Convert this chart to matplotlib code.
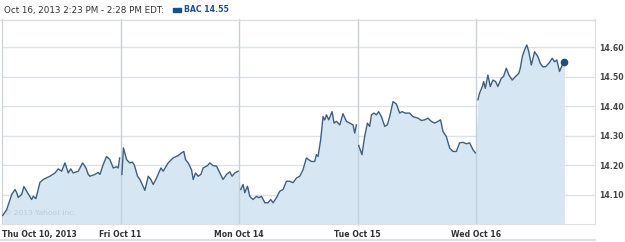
import numpy as np
import matplotlib.pyplot as plt
import matplotlib.patches as mpatches

# BAC intraday, Oct 10 - Oct 16 2013 (time = fraction of trading day)
thu_t = [0.006, 0.040, 0.082, 0.110, 0.124, 0.137, 0.166, 0.185, 0.208, 0.250, 0.264, 0.286,
         0.320, 0.348, 0.404, 0.447, 0.474, 0.503, 0.531, 0.559, 0.579, 0.601, 0.643, 0.680,
         0.708, 0.727, 0.741, 0.784, 0.811, 0.826, 0.853, 0.882, 0.910, 0.938, 0.966, 0.980, 0.992]
thu_p = [14.029, 14.049, 14.100, 14.117, 14.106, 14.090, 14.100, 14.127, 14.111, 14.083, 14.094, 14.086,
         14.141, 14.151, 14.162, 14.173, 14.187, 14.179, 14.207, 14.173, 14.187, 14.173, 14.179, 14.207,
         14.190, 14.168, 14.162, 14.168, 14.175, 14.168, 14.201, 14.229, 14.218, 14.190, 14.194, 14.190, 14.224]

fri_t = [0.011, 0.024, 0.051, 0.078, 0.098, 0.115, 0.143, 0.163, 0.205, 0.233, 0.255, 0.275,
         0.303, 0.340, 0.359, 0.401, 0.443, 0.485, 0.514, 0.533, 0.548, 0.570, 0.598, 0.612,
         0.632, 0.654, 0.677, 0.696, 0.733, 0.752, 0.780, 0.809, 0.837, 0.864, 0.893, 0.921,
         0.940, 0.963, 0.991]
fri_p = [14.168, 14.258, 14.218, 14.207, 14.210, 14.201, 14.162, 14.151, 14.114, 14.162, 14.151, 14.134,
         14.156, 14.190, 14.179, 14.207, 14.224, 14.232, 14.241, 14.246, 14.218, 14.207, 14.184, 14.151,
         14.173, 14.162, 14.168, 14.190, 14.198, 14.207, 14.198, 14.196, 14.173, 14.151, 14.168, 14.177,
         14.162, 14.173, 14.179]

mon_t = [0.013, 0.033, 0.047, 0.070, 0.089, 0.117, 0.146, 0.165, 0.188, 0.216, 0.243, 0.266,
         0.286, 0.314, 0.342, 0.370, 0.398, 0.426, 0.454, 0.483, 0.511, 0.538, 0.567, 0.586,
         0.609, 0.637, 0.651, 0.665, 0.687, 0.707, 0.721, 0.736, 0.755, 0.783, 0.800, 0.820,
         0.848, 0.875, 0.904, 0.932, 0.960, 0.974, 0.988]
mon_p = [14.117, 14.134, 14.106, 14.128, 14.094, 14.083, 14.094, 14.089, 14.094, 14.072, 14.072, 14.083,
         14.072, 14.089, 14.111, 14.117, 14.145, 14.145, 14.140, 14.156, 14.162, 14.184, 14.224, 14.218,
         14.212, 14.212, 14.235, 14.229, 14.286, 14.364, 14.353, 14.370, 14.353, 14.381, 14.342, 14.348,
         14.336, 14.374, 14.348, 14.342, 14.336, 14.308, 14.336]

tue_t = [0.008, 0.035, 0.058, 0.081, 0.100, 0.115, 0.137, 0.157, 0.176, 0.199, 0.227, 0.249,
         0.269, 0.297, 0.325, 0.353, 0.372, 0.401, 0.437, 0.465, 0.507, 0.536, 0.564, 0.591,
         0.620, 0.648, 0.676, 0.698, 0.718, 0.746, 0.774, 0.802, 0.831, 0.858, 0.886, 0.915,
         0.943, 0.971, 0.991]
tue_p = [14.266, 14.235, 14.297, 14.342, 14.331, 14.370, 14.376, 14.370, 14.381, 14.364, 14.331, 14.336,
         14.364, 14.415, 14.407, 14.376, 14.381, 14.376, 14.376, 14.364, 14.359, 14.351, 14.353, 14.359,
         14.348, 14.342, 14.348, 14.353, 14.314, 14.297, 14.258, 14.246, 14.246, 14.275, 14.277, 14.272,
         14.275, 14.252, 14.241]

wed_t = [0.013, 0.027, 0.050, 0.061, 0.075, 0.097, 0.117, 0.139, 0.162, 0.181, 0.210, 0.229,
         0.252, 0.274, 0.302, 0.330, 0.358, 0.370, 0.387, 0.406, 0.425, 0.442, 0.463, 0.491,
         0.519, 0.538, 0.560, 0.583, 0.611, 0.639, 0.659, 0.678, 0.701, 0.724, 0.742]
wed_p = [14.421, 14.444, 14.466, 14.483, 14.460, 14.505, 14.466, 14.488, 14.483, 14.466, 14.494, 14.500,
         14.528, 14.505, 14.488, 14.500, 14.511, 14.528, 14.567, 14.590, 14.607, 14.584, 14.539, 14.584,
         14.567, 14.545, 14.533, 14.533, 14.545, 14.562, 14.550, 14.556, 14.517, 14.539, 14.550]

day_labels = ["Thu Oct 10, 2013", "Fri Oct 11", "Mon Oct 14", "Tue Oct 15", "Wed Oct 16"]
price_ticks = [14.10, 14.20, 14.30, 14.40, 14.50, 14.60]

days = [(thu_t, thu_p), (fri_t, fri_p), (mon_t, mon_p), (tue_t, tue_p), (wed_t, wed_p)]

fig = plt.figure(figsize=(6.25, 2.42), dpi=100)
ax = fig.add_axes([2 / 625, 18 / 242, 593 / 625, 205 / 242])

line_col = "#3d5f80"
fill_col = "#d6e6f3"

all_t = np.concatenate([np.array(t) + i for i, (t, p) in enumerate(days)])
all_p = np.concatenate([p for t, p in days])
ax.fill_between(all_t, all_p, 14.0, color=fill_col, lw=0, zorder=1)
for i, (t, p) in enumerate(days):
    ax.plot(np.array(t) + i, p, color=line_col, lw=1.0, zorder=3)
ax.plot(all_t[-1], all_p[-1], "o", color="#1f4e7a", ms=4.5, zorder=4)

ax.set_xlim(0, 5)
ax.set_ylim(14.0, 14.695)

for y in price_ticks:
    ax.axhline(y, color="#dfe2e6", lw=1, zorder=0)
for x in range(1, 5):
    ax.axvline(x, color="#c8d0d8", lw=1, zorder=2)

ax.spines["top"].set_visible(False)
ax.spines["left"].set_color("#c8d0d8")
ax.spines["right"].set_color("#dcdfe3")
ax.spines["bottom"].set_color("#dcdfe3")

ax.yaxis.tick_right()
ax.set_yticks(price_ticks)
ax.set_yticklabels([f"{v:.2f}" for v in price_ticks], fontsize=5.6, fontweight="bold",
                   color="#444444", family="DejaVu Sans")
ax.tick_params(axis="y", length=0, pad=3)

ax.set_xticks(range(5))
ax.set_xticklabels(day_labels, fontsize=5.6, fontweight="bold", color="#333333", family="DejaVu Sans")
ax.tick_params(axis="x", length=0, pad=4)
ax.get_xticklabels()[0].set_horizontalalignment("left")

ax.text(0.02, 14.03, "© 2013 Yahoo! Inc.", fontsize=5.4, color="#c0cad5", zorder=2)

# header
fig.text(4 / 625, 1 - 10 / 242, "Oct 16, 2013 2:23 PM - 2:28 PM EDT:", fontsize=6.3,
         color="#333333", va="center", family="DejaVu Sans")
fig.patches.append(mpatches.Rectangle((173 / 625, 1 - 12 / 242), 8 / 625, 4 / 242,
                                      transform=fig.transFigure, color="#1f4e8c"))
fig.text(184 / 625, 1 - 10 / 242, "BAC 14.55", fontsize=5.6, fontweight="bold",
         color="#1f4e8c", va="center", family="DejaVu Sans")
fig.add_artist(plt.Line2D([0, 595 / 625], [1 - 19.5 / 242, 1 - 19.5 / 242],
                          transform=fig.transFigure, color="#dcdfe3", lw=1))
fig.add_artist(plt.Line2D([0, 595 / 625], [1 - 240 / 242, 1 - 240 / 242],
                          transform=fig.transFigure, color="#dcdfe3", lw=1.5))

fig.savefig("out.png", dpi=100)
